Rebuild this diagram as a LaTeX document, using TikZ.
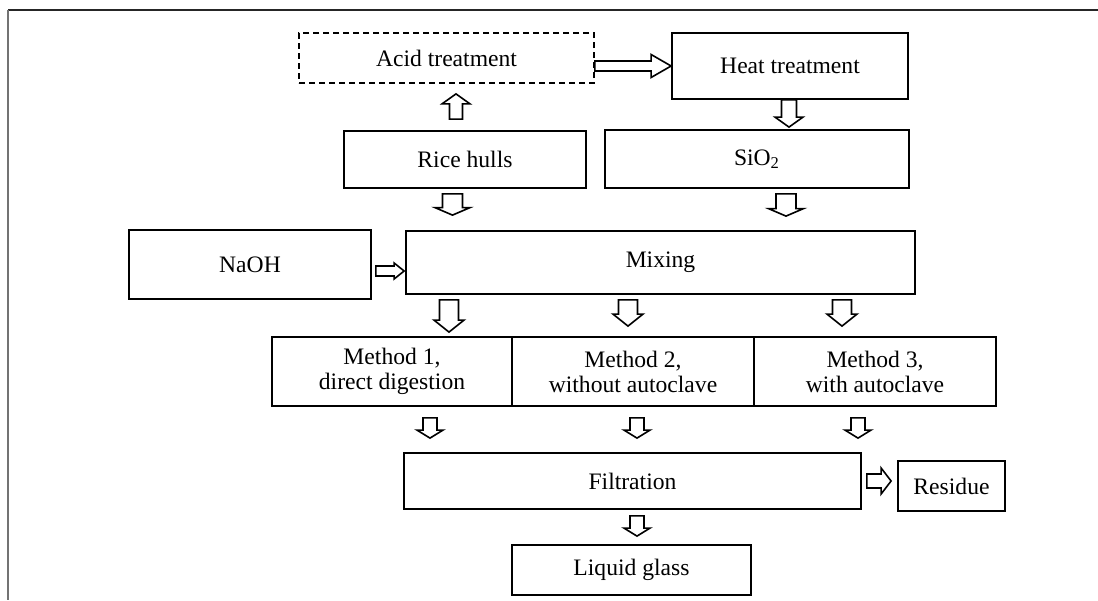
\documentclass[tikz,border=0pt]{standalone}
\usepackage{fontspec}
\setmainfont{Liberation Serif}
\usetikzlibrary{calc}

\begin{document}
\begin{tikzpicture}[
            x=0.5pt, y=-0.5pt,
            box/.style={draw, line width=0.9pt, inner sep=0pt, align=center,
                font=\fontsize{11.8}{12.5}\selectfont},
            stemw/.store in=\bstem, headw/.store in=\bhead, headl/.store in=\blen,
            stemw=3.5pt, headw=6.5pt, headl=4pt,
            blk/.style={draw, line width=0.8pt, line join=miter},
            arrd/.style={blk, to path={let \p1=(\tikztostart), \p2=(\tikztotarget) in
                (\x1-\bstem,\y1) -- (\x1-\bstem,\y2+\blen) -- (\x1-\bhead,\y2+\blen) -- (\x1,\y2)
                -- (\x1+\bhead,\y2+\blen) -- (\x1+\bstem,\y2+\blen) -- (\x1+\bstem,\y1) -- cycle}},
            arru/.style={blk, to path={let \p1=(\tikztostart), \p2=(\tikztotarget) in
                (\x1-\bstem,\y1) -- (\x1-\bstem,\y2-\blen) -- (\x1-\bhead,\y2-\blen) -- (\x1,\y2)
                -- (\x1+\bhead,\y2-\blen) -- (\x1+\bstem,\y2-\blen) -- (\x1+\bstem,\y1) -- cycle}},
            arrr/.style={blk, to path={let \p1=(\tikztostart), \p2=(\tikztotarget) in
                (\x1,\y1-\bstem) -- (\x2-\blen,\y1-\bstem) -- (\x2-\blen,\y1-\bhead) -- (\x2,\y1)
                -- (\x2-\blen,\y1+\bhead) -- (\x2-\blen,\y1+\bstem) -- (\x1,\y1+\bstem) -- cycle}}
        ]
        \useasboundingbox (0,0) rectangle (1098,600);
        % frame
        \draw[line width=0.7pt, black!85] (8,10) -- (1098,10);
        \draw[line width=0.9pt, black!55] (8,10) -- (8,600);

        \node[box, dash pattern=on 3pt off 2pt, minimum width=147.5pt, minimum height=25pt] (acid) at (446.5,58) {Acid treatment};
        \node[box, minimum width=118pt, minimum height=33pt] (heat) at (790,66) {Heat treatment};
        \node[box, minimum width=121pt, minimum height=28.5pt] (rice) at (465,159.5) {Rice hulls};
        \node[box, minimum width=152pt, minimum height=29pt] (sio) at (757,159) {SiO\textsubscript{2}};
        \node[box, minimum width=121pt, minimum height=34.5pt] (naoh) at (250,264.5) {NaOH};
        \node[box, minimum width=254.5pt, minimum height=31.5pt] (mix) at (660.5,262.5) {Mixing};
        \node[box, minimum width=120pt, minimum height=34.5pt] (m1) at (392,371.5) {Method 1,\\direct digestion};
        \node[box, minimum width=121pt, minimum height=34.5pt] (m2) at (633,371.5) {Method 2,\\without autoclave};
        \node[box, minimum width=121pt, minimum height=34.5pt] (m3) at (875,371.5) {Method 3,\\with autoclave};
        \node[box, minimum width=228.5pt, minimum height=28pt] (filt) at (632.5,481) {Filtration};
        \node[box, minimum width=53.5pt, minimum height=25pt] (res) at (951.5,486) {Residue};
        \node[box, minimum width=119.5pt, minimum height=25pt] (liq) at (631.5,570) {Liquid glass};

        \draw[arrr, stemw=2.5pt, headw=5.75pt, headl=10pt] ([yshift=-4pt]acid.east) to (heat.west);
        \draw[arru, stemw=3.25pt, headw=7pt, headl=5pt] ([xshift=-4.5pt,yshift=5.5pt]rice.north) to ([yshift=-5pt]acid.south);
        \draw[arrd, stemw=3.75pt, headw=7pt, headl=5pt] ([xshift=-0.5pt]heat.south) to ([yshift=1pt]sio.north);
        \draw[arrd, stemw=5pt, headw=8.75pt, headl=3.75pt] ([xshift=-6.25pt,yshift=-2.5pt]rice.south) to ([yshift=7.5pt]mix.north);
        \draw[arrd, stemw=5pt, headw=8.75pt, headl=3.75pt] ([xshift=14.5pt,yshift=-2.5pt]sio.south) to ([yshift=7pt]mix.north);
        \draw[arrr, stemw=2.5pt, headw=4pt, headl=5pt] ([xshift=2pt,yshift=-3.25pt]naoh.east) to ([xshift=-0.5pt]mix.west);
        \draw[arrd, stemw=4.75pt, headw=7.5pt, headl=6pt] ([xshift=-105.75pt,yshift=-2.5pt]mix.south) to ([yshift=2pt]m1.north);
        \draw[arrd, stemw=4.75pt, headw=7.5pt, headl=6pt] ([xshift=-16.25pt,yshift=-2.5pt]mix.south) to ([yshift=5pt]m2.north);
        \draw[arrd, stemw=4.75pt, headw=7.5pt, headl=6pt] ([xshift=90.75pt,yshift=-2.5pt]mix.south) to ([yshift=5pt]m3.north);
        \foreach \m/\dx in {m1/19, m2/2, m3/-8.5}
            \draw[arrd] ([xshift=\dx pt,yshift=-5.5pt]\m.south) to ([yshift=7pt]filt.north);
        \draw[arrd] ([xshift=2.25pt,yshift=-3pt]filt.south) to ([yshift=4pt]liq.north);
        \draw[arrr, stemw=3.5pt, headw=6.5pt, headl=5pt] ([xshift=2.5pt]filt.east) to ([xshift=-3pt]res.west);
    \end{tikzpicture}
\end{document}
